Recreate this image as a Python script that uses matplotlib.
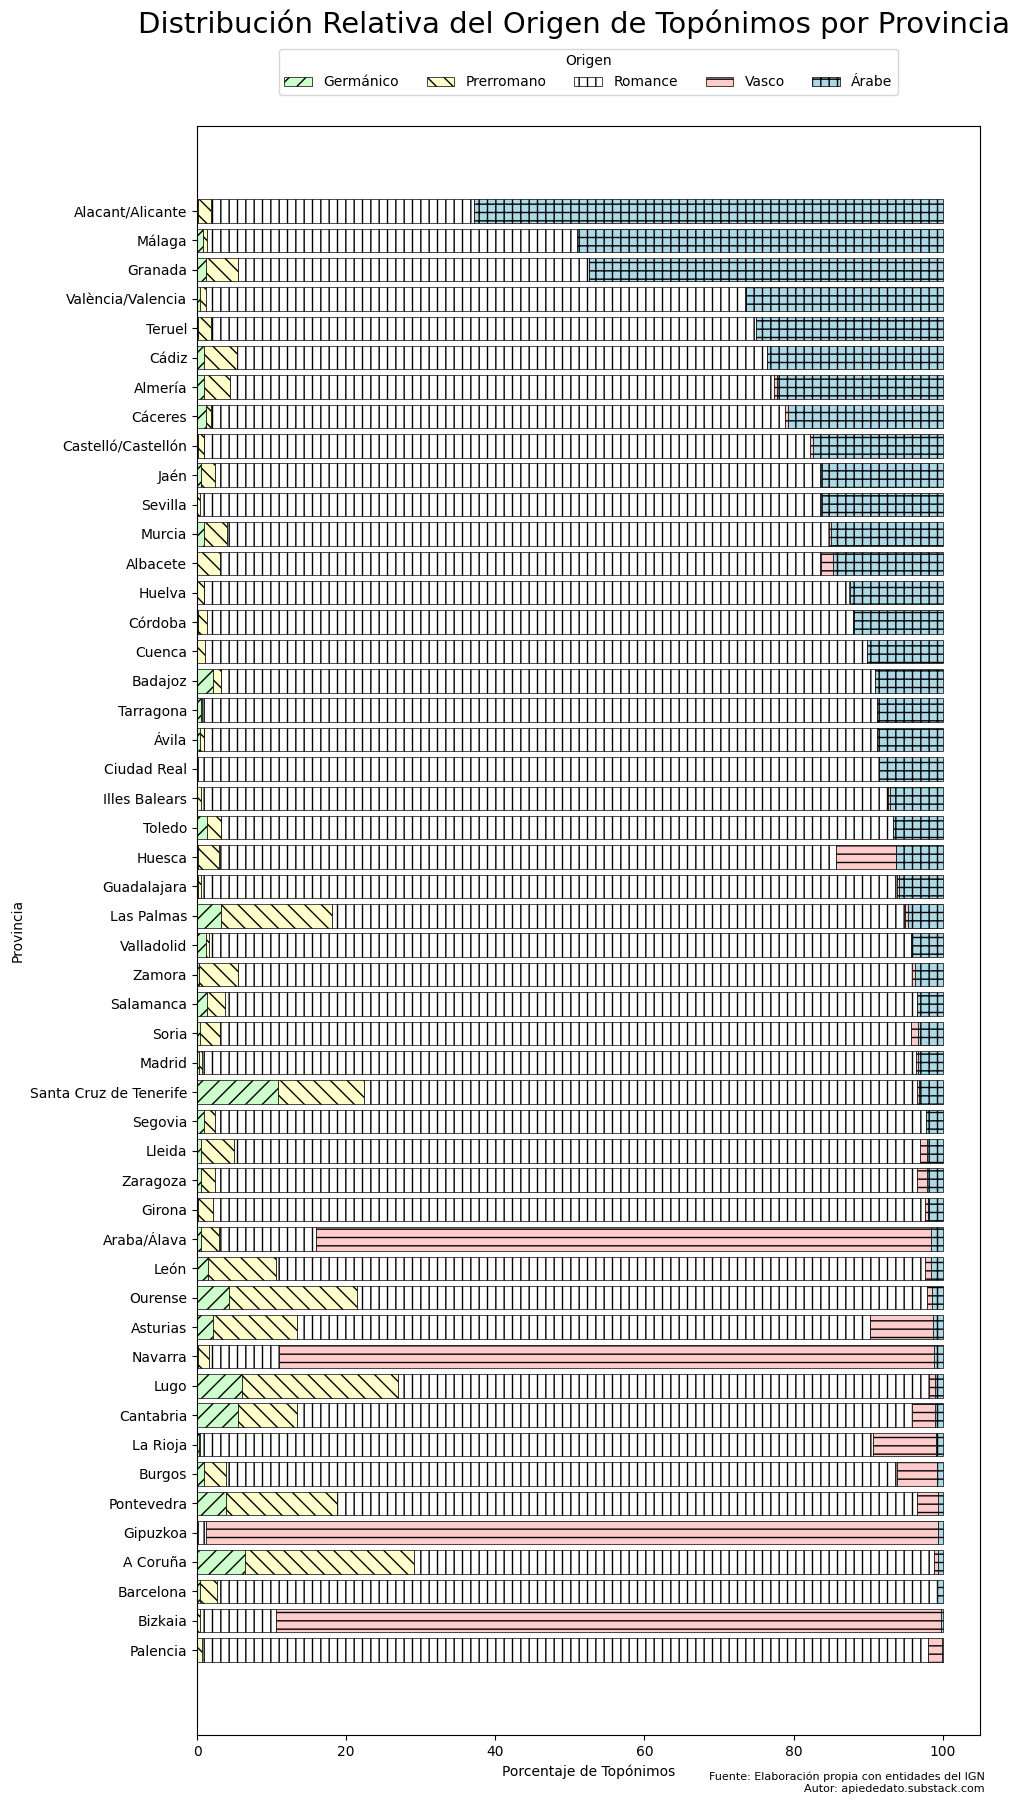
import numpy as np
import matplotlib
matplotlib.use("Agg")
import matplotlib.pyplot as plt

# provincias ordenadas por % de origen árabe (de mayor a menor)
provincias = ["Alacant/Alicante", "Málaga", "Granada", "València/Valencia", "Teruel", "Cádiz",
              "Almería", "Cáceres", "Castelló/Castellón", "Jaén", "Sevilla", "Murcia", "Albacete",
              "Huelva", "Córdoba", "Cuenca", "Badajoz", "Tarragona", "Ávila", "Ciudad Real",
              "Illes Balears", "Toledo", "Huesca", "Guadalajara", "Las Palmas", "Valladolid",
              "Zamora", "Salamanca", "Soria", "Madrid", "Santa Cruz de Tenerife", "Segovia",
              "Lleida", "Zaragoza", "Girona", "Araba/Álava", "León", "Ourense", "Asturias",
              "Navarra", "Lugo", "Cantabria", "La Rioja", "Burgos", "Pontevedra", "Gipuzkoa",
              "A Coruña", "Barcelona", "Bizkaia", "Palencia"]

germanico = [0.2, 0.75, 1.15, 0.4, 0.2, 0.9, 0.9, 1.15, 0.1, 0.5, 0.05, 0.9, 0.05,
             0.05, 0.15, 0.05, 2.1, 0.55, 0.35, 0.05, 0.05, 1.3, 0.1, 0.2, 3.2, 1.15,
             0.3, 1.4, 0.35, 0.3, 10.8, 0.9, 0.5, 0.6, 0.2, 0.6, 1.5, 4.25, 2.1,
             0.1, 6.0, 5.45, 0.3, 1.0, 3.85, 0.05, 6.4, 0.4, 0.05, 0.05]
prerromano = [1.7, 0.55, 4.35, 0.75, 1.7, 4.4, 3.55, 0.75, 0.8, 1.85, 0.35, 3.1, 3.05,
              0.85, 1.15, 1.05, 1.1, 0.1, 0.65, 0.05, 0.45, 1.9, 2.9, 0.3, 14.9, 0.4,
              5.25, 2.4, 2.7, 0.35, 11.65, 1.45, 4.4, 1.85, 1.9, 2.3, 9.05, 17.15, 11.25,
              1.45, 20.9, 7.9, 0.05, 2.95, 14.95, 0.05, 22.75, 2.3, 0.3, 0.65]
romance = [35.3, 49.6, 47.0, 72.5, 73.1, 71.1, 72.95, 76.9, 81.3, 81.35, 83.3, 80.7, 80.6,
           86.6, 86.7, 88.7, 87.7, 90.5, 90.2, 91.3, 92.1, 90.1, 82.65, 93.4, 76.8, 94.25,
           90.35, 92.7, 92.65, 95.75, 74.1, 95.4, 92.05, 94.05, 95.5, 13.0, 87.05, 76.45, 76.85,
           9.45, 71.25, 82.55, 90.25, 89.9, 77.7, 1.05, 69.65, 96.5, 10.3, 97.3]
vasco = [0.0, 0.0, 0.0, 0.0, 0.0, 0.0, 0.35, 0.45, 0.4, 0.05, 0.05, 0.3, 1.6,
         0.0, 0.0, 0.0, 0.0, 0.0, 0.0, 0.0, 0.3, 0.0, 8.05, 0.25, 0.5, 0.0,
         0.4, 0.0, 1.0, 0.25, 0.25, 0.0, 1.0, 1.45, 0.4, 82.5, 0.85, 0.65, 8.45,
         87.8, 0.75, 3.1, 8.55, 5.45, 2.9, 98.25, 0.6, 0.1, 89.15, 1.85]
arabe = [62.8, 49.1, 47.5, 26.35, 25.0, 23.6, 22.25, 20.75, 17.4, 16.25, 16.25, 15.0, 14.7,
         12.5, 12.0, 10.2, 9.1, 8.85, 8.8, 8.6, 7.1, 6.7, 6.3, 5.85, 4.6, 4.2,
         3.7, 3.5, 3.3, 3.35, 3.2, 2.25, 2.05, 2.05, 2.0, 1.6, 1.55, 1.5, 1.35,
         1.2, 1.1, 1.0, 0.85, 0.7, 0.6, 0.6, 0.6, 0.7, 0.2, 0.15]

origenes = ["Germánico", "Prerromano", "Romance", "Vasco", "Árabe"]
series = [germanico, prerromano, romance, vasco, arabe]
colores = ["#ccffcc", "#ffffcc", "#ffffff", "#ffcccc", "#add8e6"]
tramas = ["//", "\\\\", "||", "--", "++"]

fig = plt.figure(figsize=(10.13, 18.05), dpi=100)
ax = fig.add_axes([197/1013, 1-1735/1805, (980-197)/1013, (1735-126)/1805])

y = np.arange(len(provincias))
left = np.zeros(len(provincias))
for nombre, vals, c, h in zip(origenes, series, colores, tramas):
    vals = np.array(vals)
    ax.barh(y, vals, left=left, color=c, hatch=h, edgecolor="black", linewidth=0.5, label=nombre)
    left += vals

ax.set_yticks(y)
ax.set_yticklabels(provincias)
ax.invert_yaxis()
ax.set_xlabel("Porcentaje de Topónimos")
ax.set_ylabel("Provincia")
ax.legend(title="Origen", ncol=5, loc="lower center", bbox_to_anchor=(0.5, 1.015))

fig.text(574/1013, 1-24/1805, "Distribución Relativa del Origen de Topónimos por Provincia",
         ha="center", va="center", fontsize=21)
fig.text(985/1013, 1-1783/1805, "Fuente: Elaboración propia con entidades del IGN\nAutor: apiededato.substack.com",
         ha="right", va="center", fontsize=8)

fig.savefig("out.png", dpi=100)
